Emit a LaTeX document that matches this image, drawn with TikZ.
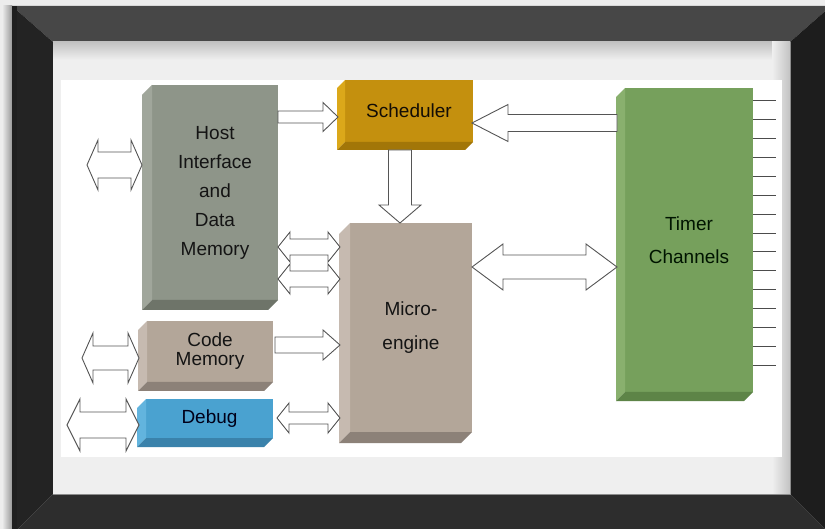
\documentclass[tikz,border=0pt]{standalone}
\usepackage{fontspec}
\setmainfont{Liberation Sans}
\usetikzlibrary{calc}
\definecolor{bggray}{HTML}{EDEDED}
\definecolor{frtop}{HTML}{474747}
\definecolor{frleft}{HTML}{232323}
\definecolor{frbot}{HTML}{2D2D2D}
\definecolor{frright}{HTML}{1D1D1D}
\definecolor{inner}{HTML}{EFEFEF}
\definecolor{shad}{HTML}{C2C2C2}
\definecolor{hostf}{HTML}{8E9589}
\definecolor{hostl}{HTML}{A0A69B}
\definecolor{hostb}{HTML}{6E7469}
\definecolor{schedf}{HTML}{C4900E}
\definecolor{schedl}{HTML}{DBA81A}
\definecolor{schedb}{HTML}{A27608}
\definecolor{microf}{HTML}{B3A699}
\definecolor{microl}{HTML}{C6BAB0}
\definecolor{microb}{HTML}{8C8178}
\definecolor{timerf}{HTML}{76A05C}
\definecolor{timerl}{HTML}{89B06E}
\definecolor{timerb}{HTML}{5D8447}
\definecolor{debugf}{HTML}{4AA2D0}
\definecolor{debugl}{HTML}{62B4DE}
\definecolor{debugb}{HTML}{3A82AB}
\definecolor{arrline}{HTML}{555555}
\definecolor{txtdark}{HTML}{141414}
\tikzset{
  blk/.style={rectangle, inner sep=0pt, outer sep=0pt, draw=none, align=center, text=txtdark},
  barrow/.style={draw=arrline, fill=white, line width=0.9pt, line join=miter},
  tick/.style={draw=black!70, line width=1pt}
}
% double horizontal arrow: x1 x2 y shafthalf headhalf headlen
\newcommand{\dharrow}[6]{%
 \draw[barrow] (#1,#3) -- ({#1+#6},{#3-#5}) -- ({#1+#6},{#3-#4}) -- ({#2-#6},{#3-#4}) -- ({#2-#6},{#3-#5}) -- (#2,#3) -- ({#2-#6},{#3+#5}) -- ({#2-#6},{#3+#4}) -- ({#1+#6},{#3+#4}) -- ({#1+#6},{#3+#5}) -- cycle;}
% right arrow, tip at x2
\newcommand{\rarrow}[6]{%
 \draw[barrow] (#1,{#3-#4}) -- ({#2-#6},{#3-#4}) -- ({#2-#6},{#3-#5}) -- (#2,#3) -- ({#2-#6},{#3+#5}) -- ({#2-#6},{#3+#4}) -- (#1,{#3+#4}) -- cycle;}
% left arrow, tip at x1
\newcommand{\larrow}[6]{%
 \draw[barrow] (#2,{#3-#4}) -- ({#1+#6},{#3-#4}) -- ({#1+#6},{#3-#5}) -- (#1,#3) -- ({#1+#6},{#3+#5}) -- ({#1+#6},{#3+#4}) -- (#2,{#3+#4}) -- cycle;}
% down arrow: x y1 y2 shafthalf headhalf headlen
\newcommand{\darrow}[6]{%
 \draw[barrow] ({#1-#4},#2) -- ({#1-#4},{#3-#6}) -- ({#1-#5},{#3-#6}) -- (#1,#3) -- ({#1+#5},{#3-#6}) -- ({#1+#4},{#3-#6}) -- ({#1+#4},#2) -- cycle;}
% 3D faces: node depth leftcolor bottomcolor
\newcommand{\faces}[4]{%
 \fill[#3] (#1.north west) -- ++(-#2,#2) -- ($(#1.south west)+(-#2,#2)$) -- (#1.south west) -- cycle;
 \fill[#4] (#1.south west) -- ++(-#2,#2) -- ($(#1.south east)+(-#2,#2)$) -- (#1.south east) -- cycle;}
\begin{document}
\begin{tikzpicture}[x=1pt,y=-1pt]
\useasboundingbox (0,0) rectangle (825,529);
\clip (0,0) rectangle (825,529);
% background
\fill[bggray] (0,0) rectangle (825,529);
\shade[left color=bggray, right color=black!40] (2,6) rectangle (12,535);
% frame
\fill[frtop] (12,6) -- (831,6) -- (790,42) -- (53,42) -- cycle;
\fill[frleft] (12,6) -- (53,42) -- (53,494) -- (12,535) -- cycle;
\fill[frbot] (12,535) -- (53,494) -- (790,494) -- (831,535) -- cycle;
\fill[frright] (831,6) -- (790,42) -- (790,494) -- (831,535) -- cycle;
\fill[black!88] (12,6) rectangle (17,535);
% inner mat
\fill[inner] (53,42) rectangle (790,494);
\shade[top color=shad, bottom color=inner] (53,42) rectangle (790,60);
\shade[left color=inner, right color=shad] (772,42) rectangle (790,494);
\draw[black!45, line width=0.8pt] (790,42) -- (790,494) -- (53,494);
% white panel
\fill[white] (61,80) rectangle (782,457);

% blocks
\node[blk, fill=hostf, minimum width=126pt, minimum height=215pt,
      font=\fontsize{19}{29}\selectfont] (host) at (215,192.5)
      {Host\\Interface\\and\\Data\\Memory};
\faces{host}{10}{hostl}{hostb}
\node[blk, fill=schedf, minimum width=128pt, minimum height=62pt,
      font=\fontsize{19}{23}\selectfont, text={black!90!brown}] (sched) at (409,111) {Scheduler};
\faces{sched}{8}{schedl}{schedb}
\node[blk, fill=microf, minimum width=122pt, minimum height=209pt,
      font=\fontsize{19}{34}\selectfont] (micro) at (411,327.5) {Micro-\\engine};
\faces{micro}{11}{microl}{microb}
\node[blk, fill=timerf, minimum width=128pt, minimum height=304pt,
      font=\fontsize{19}{33}\selectfont, text={black!92!green}] (timer) at (689,240) {Timer\\Channels};
\faces{timer}{9}{timerl}{timerb}
\node[blk, fill=microf, minimum width=126pt, minimum height=61pt,
      font=\fontsize{19}{19}\selectfont] (code) at (210,351.5) {Code\\Memory};
\faces{code}{9}{microl}{microb}
\node[blk, fill=debugf, minimum width=127pt, minimum height=39pt,
      font=\fontsize{19}{23}\selectfont, text={black!90!blue}] (debug) at (209.5,418.5) {Debug};
\faces{debug}{9}{debugl}{debugb}

% timer channel lines
\foreach \i in {0,...,14}{
  \draw[tick] (timer.north east |- 0,{101+\i*18.86}) -- ++(23,0);
}

% block arrows
\dharrow{87}{142}{165}{13}{25}{11}
\rarrow{278}{338}{117}{6}{14.5}{15}
\dharrow{278}{340}{247}{8}{15}{12}
\dharrow{278}{340}{279}{8}{15}{12}
\rarrow{275}{340}{345}{8}{15}{17}
\dharrow{277}{340}{418}{6}{15}{12}
\dharrow{82}{139}{358}{12}{25}{11}
\dharrow{67}{139}{425}{13}{26}{13}
\darrow{400}{150}{223}{11.5}{21}{18}
\larrow{472}{617}{123}{8.5}{18.5}{36}
\dharrow{472}{617}{267}{12}{23}{31}
\end{tikzpicture}
\end{document}
